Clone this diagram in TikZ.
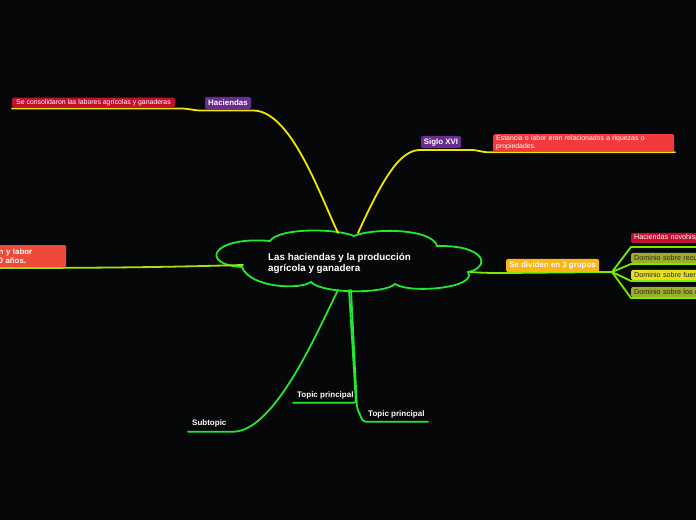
\documentclass[tikz,border=0pt]{standalone}
\usepackage{fontspec}
\setmainfont{Liberation Sans}
\definecolor{bg}{HTML}{060709}
\definecolor{ylw}{HTML}{F2E600}
\definecolor{grn}{HTML}{22E830}
\definecolor{chart}{HTML}{72EE00}
\definecolor{lgrn}{HTML}{A6E010}
\definecolor{purp}{HTML}{6A2C91}
\definecolor{crim}{HTML}{C2102E}
\definecolor{redb}{HTML}{F23A3C}
\definecolor{tomb}{HTML}{EE4A3A}
\definecolor{gold}{HTML}{FDB515}
\definecolor{oliv}{HTML}{9DAE2C}
\definecolor{yelb}{HTML}{E6DE1E}
\tikzset{
  conn/.style={line width=1.8pt, line cap=round, line join=round},
  boxn/.style={rectangle, rounded corners=1.5pt, inner sep=0pt, text=white},
  small/.style={font=\fontsize{6.9}{8}\selectfont},
  rsmall/.style={font=\fontsize{7.2}{8}\selectfont},
  bsmall/.style={font=\bfseries\fontsize{7.9}{9}\selectfont},
  plain/.style={text=white, inner sep=0pt, font=\bfseries\fontsize{8}{9}\selectfont},
  rbox/.style={boxn, rsmall, anchor=west, minimum height=10, inner xsep=3, align=left, text width=130}
}
\begin{document}
\begin{tikzpicture}[x=1pt,y=1pt]
\useasboundingbox (0,0) rectangle (696,520);
\fill[bg] (0,0) rectangle (696,520);
\clip (0,0) rectangle (696,520);

% cloud (central topic)
\draw[grn, line width=1.8pt, fill=bg]
  (270,279) .. controls (278,292) and (335,292) .. (354,284)
  .. controls (372,292) and (432,292) .. (437,274)
  .. controls (488,275) and (490,252) .. (468,248)
  .. controls (478,232) and (410,226) .. (395,236)
  .. controls (385,226) and (322,226) .. (311,238)
  .. controls (300,230) and (250,232) .. (242,253)
  .. controls (200,255) and (210,284) .. (270,279) -- cycle;
\node[plain, anchor=west, align=left, font=\bfseries\fontsize{9.8}{11}\selectfont] (root) at (268,257)
  {Las haciendas y la producción\\agrícola y ganadera};

% connector end points on the cloud
\coordinate (rTL) at (338,287);
\coordinate (rTR) at (358,287);
\coordinate (rL) at (243,255);
\coordinate (rR) at (470,248);
\coordinate (rB1) at (338,230);
\coordinate (rB2) at (349,230);
\coordinate (rB3) at (351,230);

% free ends / bends
\coordinate (hacR) at (253,409.5);
\coordinate (consL) at (12,411.5);
\coordinate (sigL) at (420,370);
\coordinate (estR) at (675,367.7);
\coordinate (leftE) at (-5,252);
\coordinate (brA) at (612,248);
\coordinate (subE) at (188,88.3);
\coordinate (tp1E) at (293,117.3);
\coordinate (tp2E) at (428,98.3);

% yellow branches
\draw[conn, ylw] (consL) -- (180,411.5) .. controls (190,411.5) and (192,409.5) .. (202,409.5)
  -- (hacR) .. controls (290,409.5) and (318,330) .. (rTL);
\draw[conn, ylw] (rTR) .. controls (383,342) and (400,370) .. (sigL) -- (470,370)
  .. controls (480,370) and (480,367.7) .. (490,367.7) -- (estR);

% left branch
\draw[conn, lgrn] (leftE) .. controls (150,252) and (200,254) .. (rL);

% right branch
\draw[conn, chart] (rR) .. controls (485,247) and (490,247) .. (506,247) -- (brA);
\draw[conn, chart] (brA) -- (631,273) -- (700,273);
\draw[conn, chart] (brA) -- (631,256) -- (700,256);
\draw[conn, chart] (brA) -- (631,239) -- (700,239);
\draw[conn, chart] (brA) -- (631,222) -- (700,222);

% bottom branches
\draw[conn, grn] (rB1) .. controls (318,190) and (275,88.3) .. (233,88.3) -- (subE);
\draw[conn, grn, rounded corners=2pt] (rB2) -- (356,117.3) -- (tp1E);
\draw[conn, grn, rounded corners=3pt] (rB3) -- (357,112) -- (363,98.3) -- (tp2E);

% nodes
\node[boxn, bsmall, fill=purp, minimum width=46, minimum height=12] (hac) at (228,417) {Haciendas};
\node[boxn, small, fill=crim, minimum width=163, minimum height=9.5] (cons) at (93.5,417.5)
  {Se consolidaron las labores agrícolas y ganaderas};
\node[boxn, bsmall, fill=purp, minimum width=40, minimum height=12] (sig) at (441,378) {Siglo XVI};
\node[boxn, small, fill=redb, anchor=north west, text width=175, inner xsep=3, inner ysep=1.5,
  minimum height=17, align=left] (est) at (493,386)
  {Estancia o labor eran relacionados a riquezas o\\propiedades.};
\node[boxn, fill=tomb, anchor=north west, text width=57, inner xsep=10.5,
  minimum height=22, align=left, font=\bfseries\fontsize{7.8}{9}\selectfont] (lft) at (-12,275)
  {n y labor\\0 años.};
\node[boxn, bsmall, fill=gold, minimum width=93, minimum height=13] (div) at (552.5,254.5)
  {Se dividen en 3 grupos};
\node[rbox, fill=crim] (r1) at (631,282) {Haciendas novohispanas};
\node[rbox, fill=oliv, text=black!85] (r2) at (631,262) {Dominio sobre recursos};
\node[rbox, fill=yelb, text=black!85] (r3) at (631,245) {Dominio sobre fuerza};
\node[rbox, fill=oliv, text=black!85] (r4) at (631,228) {Dominio sobre los medios};

\node[plain, anchor=west] (sub) at (192,97) {Subtopic};
\node[plain, anchor=west] (tp1) at (297,125) {Topic principal};
\node[plain, anchor=west] (tp2) at (368,106) {Topic principal};
\end{tikzpicture}
\end{document}
